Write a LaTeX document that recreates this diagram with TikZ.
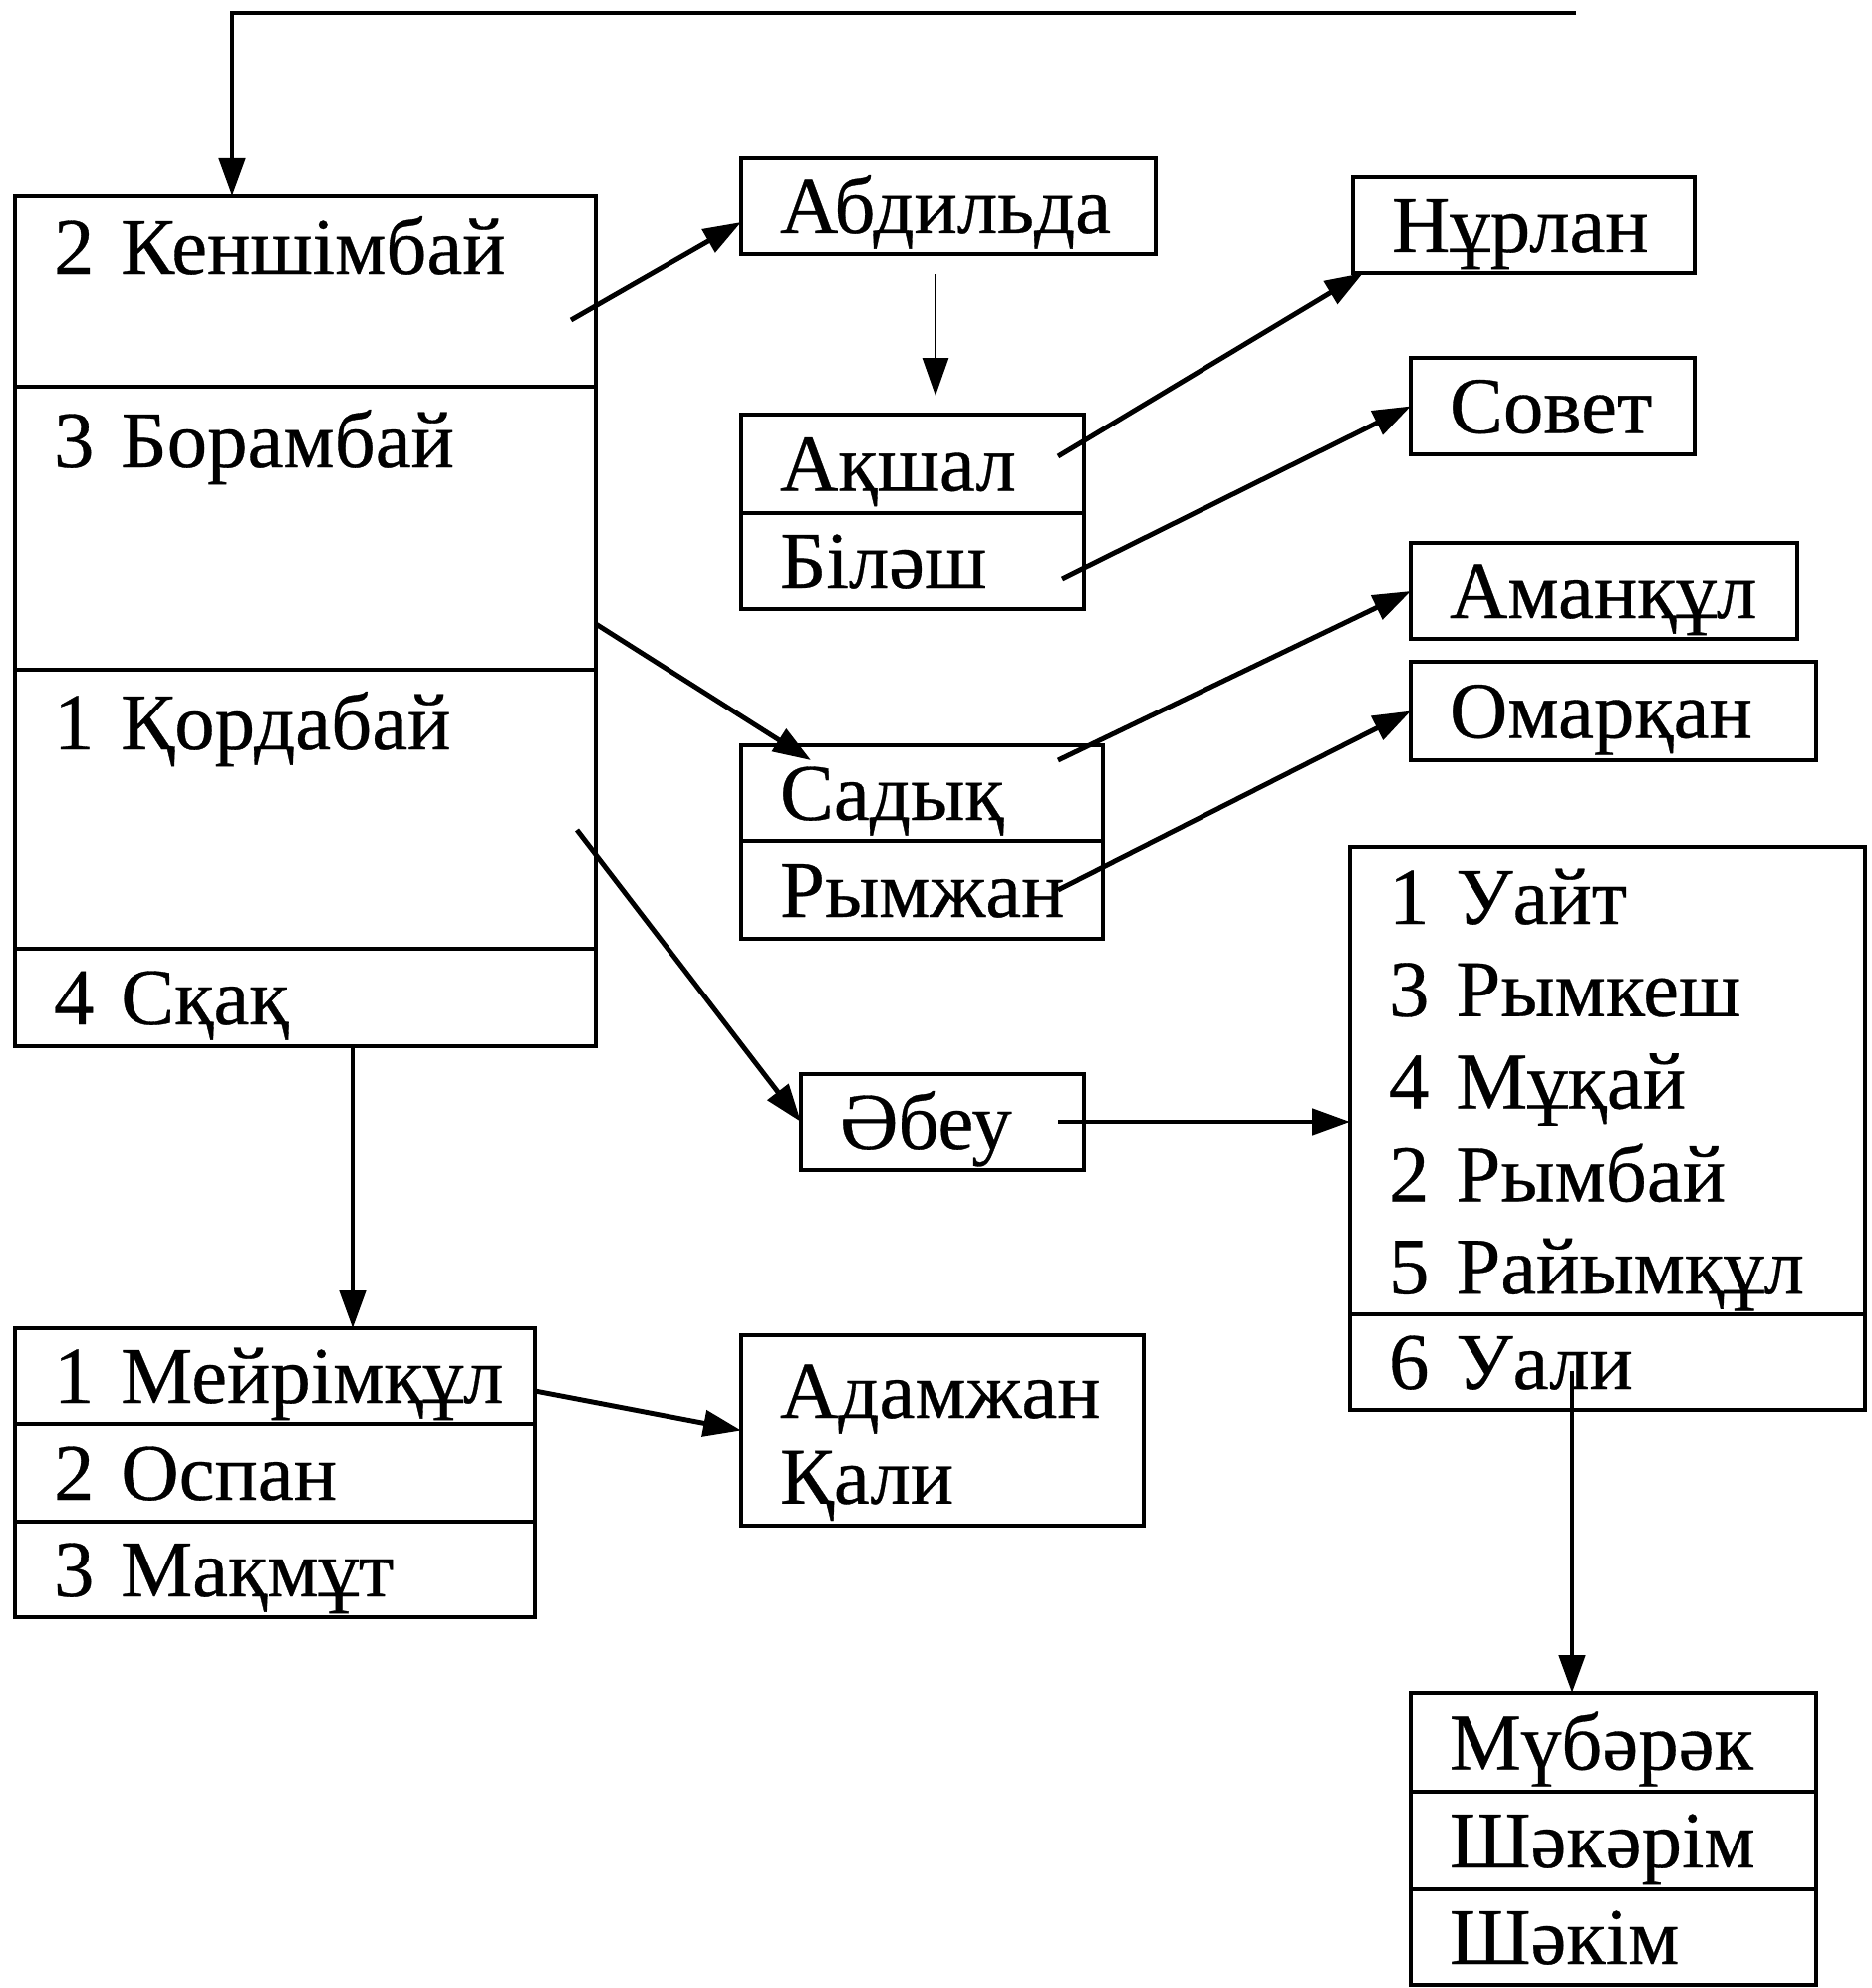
\documentclass[tikz,border=0pt]{standalone}
\usepackage{fontspec}
\setmainfont[FakeBold=0.4]{Liberation Serif}
\usetikzlibrary{arrows.meta, positioning}
\tikzset{
  cell/.style={
    rectangle, draw=black, line width=1.4pt,
    outer sep=0pt, inner xsep=3.9mm, inner ysep=0pt,
    align=left, font=\fontsize{23}{26.4}\selectfont
  },
  namebox/.style={cell, text height=7.5mm, text depth=2.1mm},
  myarrow/.style={-{Triangle[length=3.8mm, width=2.6mm]}, line width=1.4pt},
  thinarrow/.style={-{Triangle[length=3.8mm, width=2.6mm]}, line width=0.8pt}
}

\begin{document}
\begin{tikzpicture}

\useasboundingbox (0,0) rectangle (18.78,-19.95);

%% LEFT COLUMN
\node[namebox, anchor=north west, text width=50.5mm, text height=7.8mm, text depth=11.3mm] (kensh) at (0.15,-1.97) {2~Кеншімбай};
\node[namebox, below=0pt of kensh, text width=50.5mm, text height=8.1mm, text depth=20.3mm] (boram) {3~Борамбай};
\node[namebox, below=0pt of boram, text width=50.5mm, text height=8.0mm, text depth=20.0mm] (korda) {1~Қордабай};
\node[namebox, below=0pt of korda, text width=50.5mm, minimum height=9.8mm] (skak) {4~Сқақ};

\node[namebox, anchor=north west, text width=44.4mm] (meyr) at (0.15,-13.33) {1~Мейрімқұл};
\node[namebox, below=0pt of meyr, text width=44.4mm, minimum height=9.8mm] (ospan) {2~Оспан};
\node[namebox, below=0pt of ospan, text width=44.4mm, minimum height=9.5mm] (makmut) {3~Мақмұт};

%% MIDDLE COLUMN
\node[namebox, anchor=north west, text width=33.8mm, minimum height=9.5mm] (abdilda) at (7.44,-1.59) {Абдильда};
\node[namebox, anchor=north west, text width=26.6mm, minimum height=9.9mm] (akshal) at (7.44,-4.16) {Ақшал};
\node[namebox, below=0pt of akshal, text width=26.6mm] (bilash) {Біләш};
\node[namebox, anchor=north west, text width=28.5mm] (sadyk) at (7.44,-7.48) {Садық};
\node[namebox, below=0pt of sadyk, text width=28.5mm, minimum height=9.8mm] (rymzhan) {Рымжан};
\node[namebox, anchor=north west, text width=20.6mm, minimum height=9.3mm] (abeu) at (8.04,-10.78) {Әбеу};
\node[cell, anchor=north west, text width=32.6mm, text height=8.3mm, text depth=10.8mm] (adamzhan) at (7.44,-13.40) {Адамжан\\[-0.7mm]Қали};

%% RIGHT COLUMN
\node[namebox, anchor=north west, text width=26.5mm, minimum height=9.3mm] (nurlan) at (13.58,-1.78) {Нұрлан};
\node[namebox, anchor=north west, text width=20.7mm, minimum height=9.7mm] (sovet) at (14.16,-3.59) {Совет};
\node[namebox, anchor=north west, text width=31.0mm, minimum height=9.5mm] (amankul) at (14.16,-5.45) {Аманқұл};
\node[namebox, anchor=north west, text width=32.9mm, minimum height=9.9mm] (omarkan) at (14.16,-6.64) {Омарқан};
\node[cell, anchor=north west, text width=43.9mm, text height=7.7mm, text depth=39.2mm] (uait) at (13.55,-8.50) {1~Уайт\\3~Рымкеш\\4~Мұқай\\2~Рымбай\\5~Райымқұл};
\node[namebox, below=0pt of uait, text width=43.9mm, minimum height=9.3mm] (uali) {6~Уали};

\node[namebox, anchor=north west, text width=32.9mm, minimum height=9.9mm] (mubarak) at (14.16,-16.99) {Мүбәрәк};
\node[namebox, below=0pt of mubarak, text width=32.9mm, minimum height=9.8mm] (shakarim) {Шәкәрім};
\node[namebox, below=0pt of shakarim, text width=32.9mm, minimum height=9.5mm] (shakim) {Шәкім};

%% ARROWS
\coordinate (topend) at (15.82,-0.13);
\draw[myarrow] (topend) -| ([xshift=-7.35mm]kensh.north);

\draw[myarrow] ([xshift=-2.5mm,yshift=-2.85mm]kensh.east) -- ([yshift=-1.6mm]abdilda.west);
\draw[thinarrow, shorten >=1.9mm] ([xshift=-1.3mm,yshift=-2mm]abdilda.south) -- ([xshift=-1.3mm]abdilda.south |- akshal.north);

% akshal, bilash -> right
\draw[myarrow] ([xshift=-2.6mm,yshift=0.75mm]akshal.east) -- ([xshift=1mm]nurlan.south west);
\draw[myarrow] ([xshift=-2.2mm,yshift=-1.8mm]bilash.east) -- (sovet.west);

% borambai -> sadyk
\draw[myarrow] ([yshift=-9.6mm]boram.east) -- ([xshift=7mm,yshift=-1.5mm]sadyk.north west);
\draw[myarrow] ([xshift=-4.5mm,yshift=3.3mm]sadyk.east) -- (amankul.west);
\draw[myarrow] ([xshift=-4.5mm]rymzhan.east) -- (omarkan.west);

% kordabai -> abeu -> sons
\draw[myarrow] ([xshift=-1.9mm,yshift=-2.1mm]korda.east) -- (abeu.west);
\draw[myarrow] ([xshift=-2.6mm]abeu.east) -- (abeu.east -| uait.west);
\draw[myarrow] ([xshift=-3.55mm,yshift=-0.9mm]uali.center) -- ([xshift=-3.55mm]uali.center |- mubarak.north);

% skak -> sons
\draw[myarrow] ([xshift=4.75mm]skak.south) -- ([xshift=4.75mm]skak.south |- meyr.north);
\draw[myarrow] ([yshift=-1.5mm]meyr.east) -- (adamzhan.west);

\end{tikzpicture}
\end{document}
